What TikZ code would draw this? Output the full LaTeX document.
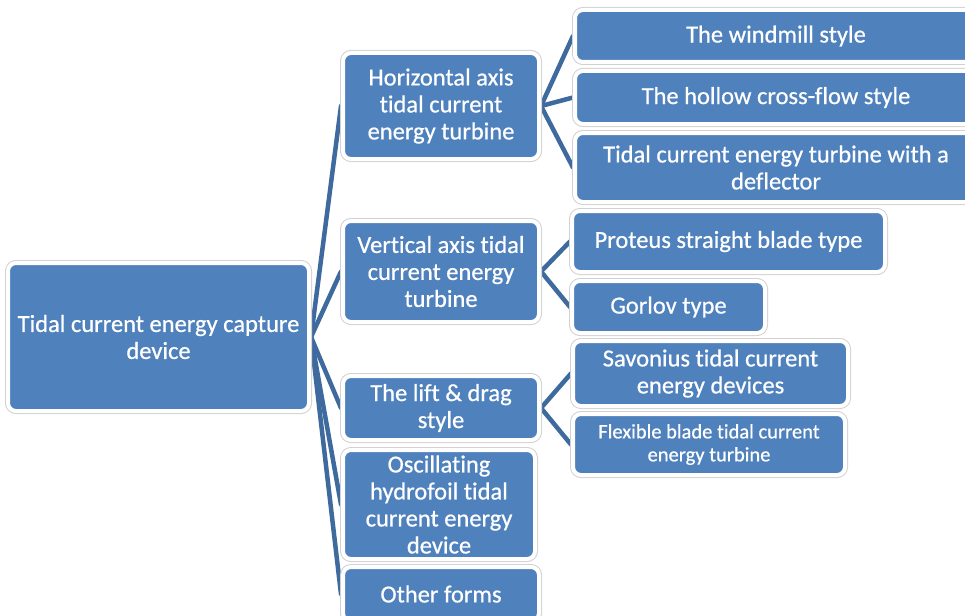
\documentclass[tikz,border=0pt]{standalone}
\usepackage{fontspec}
\setmainfont{Carlito}[Ligatures=NoCommon, FakeBold=0.6]
\usetikzlibrary{backgrounds}
\newcommand\tI{t\kern0pt i}
\definecolor{boxblue}{HTML}{4F81BD}
\definecolor{linkblue}{HTML}{3E6A9E}
\tikzset{
  box/.style={rectangle, rounded corners=8pt, fill=boxblue, draw=white, line width=4pt,
    preaction={draw=black!18, line width=6pt}, text=white, align=center, inner sep=0pt,
    font=\fontsize{24.5}{27}\selectfont},
  link/.style={draw=linkblue, line width=4.5pt, line cap=round}
}
\begin{document}
\begin{tikzpicture}[x=1pt,y=-1pt]
\useasboundingbox (0,0) rectangle (965,615);
\clip (0,0) rectangle (965,615);
% level 0
\node[box, minimum width=301, minimum height=148] (root) at (158.5,337) {Tidal current energy capture\\device};
% level 1
\node[box, minimum width=196, minimum height=106] (hor) at (441,106) {Horizontal axis\\\tI dal current\\energy turbine};
\node[box, minimum width=196, minimum height=101] (ver) at (441,271.5) {Ver\tI cal axis \tI dal\\current energy\\turbine};
\node[box, minimum width=196, minimum height=64] (lift) at (441,408) {The lift \& drag\\style};
\node[box, minimum width=192, minimum height=109] (osc) at (439,504.5) {Oscilla\tI ng\\hydrofoil \tI dal\\current energy\\device};
\node[box, minimum width=196, minimum height=54] (other) at (441,594) {Other forms};
% level 2
\node[box, minimum width=402, minimum height=52] (wind) at (776,36) {The windmill style};
\node[box, minimum width=402, minimum height=53] (hollow) at (776,97.5) {The hollow cross-flow style};
\node[box, minimum width=402, minimum height=69] (defl) at (776,167.5) {Tidal current energy turbine with a\\deflector};
\node[box, minimum width=313, minimum height=61] (prot) at (728.5,241.5) {Proteus straight blade type};
\node[box, minimum width=193, minimum height=52] (gorl) at (668.5,307) {Gorlov type};
\node[box, minimum width=275, minimum height=65] (savo) at (710.5,373.5) {Savonius \tI dal current\\energy devices};
\node[box, minimum width=272, minimum height=61, font=\fontsize{20.5}{23}\selectfont] (flex) at (709,444.5) {Flexible blade \tI dal current\\energy turbine};
\begin{pgfonlayer}{background}
\foreach \t in {hor,ver,lift,osc,other} \draw[link] (root.east) -- (\t.west);
\foreach \t in {wind,hollow,defl} \draw[link] (hor.east) -- (\t.west);
\foreach \t in {prot,gorl} \draw[link] (ver.east) -- (\t.west);
\foreach \t in {savo,flex} \draw[link] (lift.east) -- (\t.west);
\end{pgfonlayer}
\end{tikzpicture}
\end{document}
